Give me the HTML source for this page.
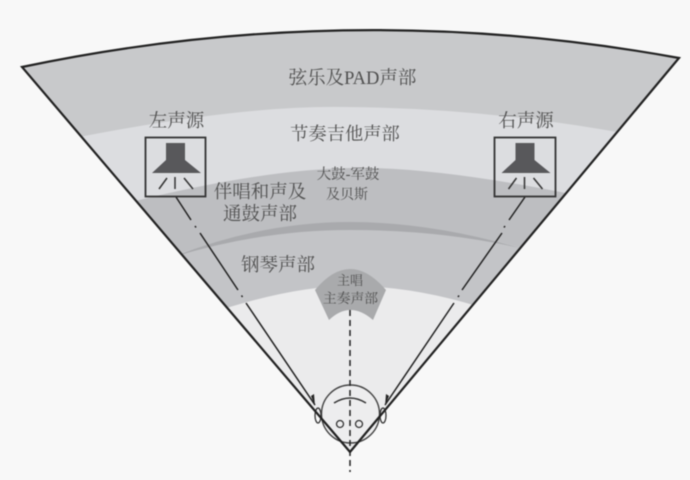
<!DOCTYPE html>
<html><head><meta charset="utf-8"><style>
html,body{margin:0;padding:0;background:#f8f8f8;width:690px;height:480px;overflow:hidden}
svg{display:block;filter:blur(.4px)}
text{font-family:"Liberation Serif","Noto Serif CJK SC",serif;fill:#505050;text-anchor:middle}
</style></head><body>
<svg width="690" height="480" viewBox="0 0 690 480" xmlns="http://www.w3.org/2000/svg">
<defs><clipPath id="fan"><path d="M22,67 Q350,-2 679,58 L350,452 Z"/></clipPath></defs>
<rect width="690" height="480" fill="#f8f8f8"/>
<g clip-path="url(#fan)">
<rect width="690" height="480" fill="#c8c9cb"/>
<path d="M40,145 Q230,105 345,107 Q500,108 660,140 L660,480 L40,480 Z" fill="#dcdde0"/>
<path d="M100,210 Q250,170 350,168 Q440,166 600,200 L600,480 L100,480 Z" fill="#bdbec1"/>
<path d="M150,262 Q260,226 350,224 Q440,224 530,250 L530,480 L150,480 Z" fill="#c3c4c7"/>
<path d="M170,258 Q260,222 350,222 Q430,222 520,248 Q440,230 350,230 Q260,230 170,258 Z" fill="#a9aaad"/>
<path d="M205,315 Q290,286 350,286 Q420,286 495,312 L495,480 L205,480 Z" fill="#ebebec"/>
</g>
<path d="M315,290 Q350,248 386,290 L373,320 Q350,300 329,320 Z" fill="#a9aaac"/>
<circle cx="350.5" cy="414" r="29" fill="#ededee" stroke="#444" stroke-width="1.4"/>
<path d="M334,403 Q350,393 366,403" fill="none" stroke="#333" stroke-width="1.5"/>
<circle cx="340" cy="424" r="3.500" fill="none" stroke="#333" stroke-width="1.3"/>
<circle cx="359" cy="424" r="3.500" fill="none" stroke="#333" stroke-width="1.3"/>
<ellipse cx="318" cy="415.500" rx="3" ry="7.500" fill="none" stroke="#333" stroke-width="1.300"/>
<ellipse cx="383" cy="415.500" rx="3" ry="7.500" fill="none" stroke="#333" stroke-width="1.300"/>
<g stroke="#222" stroke-width="1.500" fill="none">
<path d="M176,197 L191,220 M195,226 L196,227.500 M200,233 L238,290 M241.500,295.500 L242.500,297 M246,303 L315,405"/>
<path d="M525,197 L509,220 M505,226 L504,227.500 M502,233 L462,290 M459,295.500 L458,297 M454,303 L385,405"/>
</g>
<path d="M315,406 L311,396 L314,394 Z" fill="#222"/>
<path d="M385,406 L389,396 L386,394 Z" fill="#222"/>
<path d="M22,67 Q350,-2 679,58 L350,452 Z" fill="none" stroke="#222" stroke-width="2.200" stroke-linejoin="miter"/>
<line x1="350" y1="310" x2="350" y2="472" stroke="#222" stroke-width="1.500" stroke-dasharray="6 4"/>
<g>
<rect x="145.500" y="137.500" width="60" height="59" fill="none" stroke="#333" stroke-width="1.800"/>
<path d="M166,143 H185 V160 L201,173 H152 L166,160 Z" fill="#58585b"/>
<path d="M159,189 L167,178 M175,177 V189 M184,178 L193,189" stroke="#333" stroke-width="1.500" fill="none"/>
</g>
<g transform="translate(349.500,0)">
<rect x="145" y="137.500" width="61" height="59" fill="none" stroke="#333" stroke-width="1.800"/>
<path d="M166,143 H185 V160 L201,173 H152 L166,160 Z" fill="#58585b"/>
<path d="M159,189 L167,178 M175,177 V189 M184,178 L193,189" stroke="#333" stroke-width="1.500" fill="none"/>
</g>
<text x="352.500" y="84" font-size="18.500">弦乐及PAD声部</text>
<text x="345" y="140" font-size="18.300">节奏吉他声部</text>
<text x="176.500" y="127" font-size="18.500">左声源</text>
<text x="526" y="127" font-size="18.500">右声源</text>
<text x="348" y="179" font-size="14.500">大鼓-军鼓</text>
<text x="347" y="199" font-size="14">及贝斯</text>
<text x="260" y="198" font-size="18.500">伴唱和声及</text>
<text x="260" y="220" font-size="18.500">通鼓声部</text>
<text x="278" y="271" font-size="18.500">钢琴声部</text>
<text x="350" y="285" font-size="13">主唱</text>
<text x="350.500" y="303" font-size="13.800">主奏声部</text>
</svg>
</body></html>
